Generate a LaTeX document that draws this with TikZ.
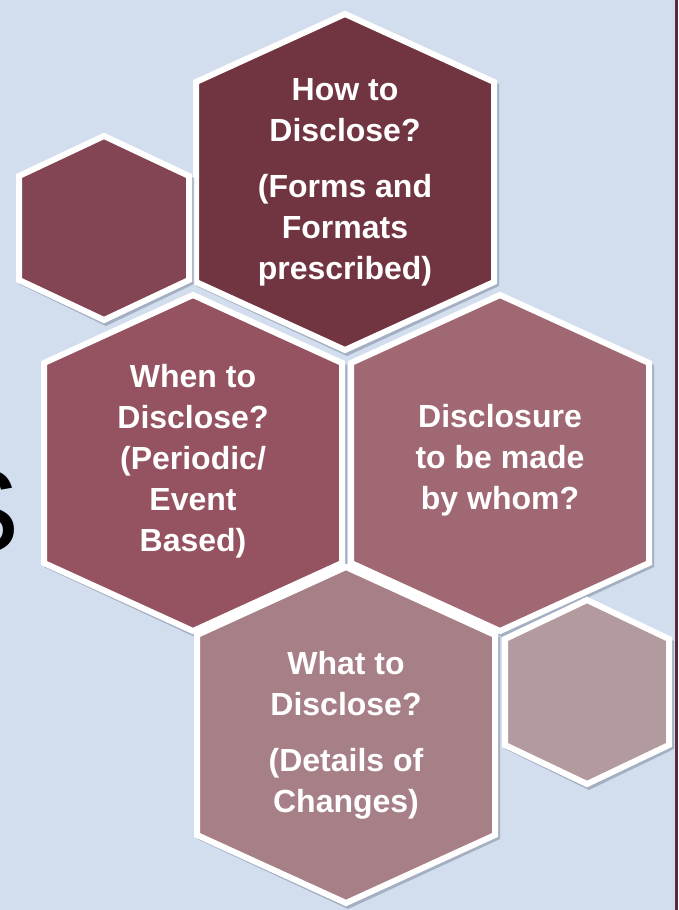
\documentclass[tikz,border=0pt]{standalone}
\usepackage{fontspec}
\setmainfont{Liberation Sans}
\definecolor{bgc}{HTML}{D2DEEE}
\definecolor{cHow}{HTML}{713441}
\definecolor{cSmallL}{HTML}{834553}
\definecolor{cWhen}{HTML}{955361}
\definecolor{cWho}{HTML}{A06873}
\definecolor{cWhat}{HTML}{A77F86}
\definecolor{cSmallR}{HTML}{B39A9E}
\definecolor{edgec}{HTML}{5C2B3A}
\definecolor{shadowc}{HTML}{7F8C9E}
\tikzset{
  hexborder/.style={draw=white, line width=6pt, line join=miter},
  hexshadow/.style={fill=shadowc, opacity=0.55},
  hextext/.style={text=white, align=center, inner sep=0pt,
    font=\bfseries\fontsize{32}{41}\selectfont},
}
% #1 cx, #2 cy, #3 w, #4 s, #5 R, #6 fill colour
\newcommand\drawhexa[6]{%
  \fill[hexshadow] ({#1+2},{#2-#5+1}) -- ({#1+#3+5},{#2-#4+2}) -- ({#1+#3+5},{#2+#4+4}) -- ({#1+2},{#2+#5+6}) -- ({#1-#3},{#2+#4+4}) -- ({#1-#3},{#2-#4+2}) -- cycle;
  \filldraw[hexborder, fill=#6] ({#1},{#2-#5}) -- ({#1+#3},{#2-#4}) -- ({#1+#3},{#2+#4}) -- ({#1},{#2+#5}) -- ({#1-#3},{#2+#4}) -- ({#1-#3},{#2-#4}) -- cycle;
}
\begin{document}
\begin{tikzpicture}[x=1pt, y=-1pt]
  \fill[bgc] (0,0) rectangle (678,910);
  \useasboundingbox (0,0) rectangle (678,910);
  \fill[edgec] (675,0) rectangle (678,910);
  \node[anchor=base west, inner sep=0pt, font=\fontsize{119}{119}\selectfont, text=black] (bigS) at (-60,552) {S};

  \drawhexa{345}{182}{149}{100}{168}{cHow}
  \drawhexa{104}{228}{85}{52}{92}{cSmallL}
  \drawhexa{193}{463}{149}{100}{168}{cWhen}
  \drawhexa{500}{463}{149}{100}{168}{cWho}
  \drawhexa{587}{692}{82}{53}{92}{cSmallR}
  \drawhexa{346}{735}{149}{100}{168}{cWhat}

  \node[hextext] (how) at (345,182) {How to\\Disclose?\\[15pt](Forms and\\Formats\\prescribed)};
  \node[hextext] (when) at (193,461) {When to\\Disclose?\\(Periodic/\\Event\\Based)};
  \node[hextext] (who) at (500,460) {Disclosure\\to be made\\by whom?};
  \node[hextext] (what) at (346,735) {What to\\Disclose?\\[15pt](Details of\\Changes)};
\end{tikzpicture}
\end{document}
